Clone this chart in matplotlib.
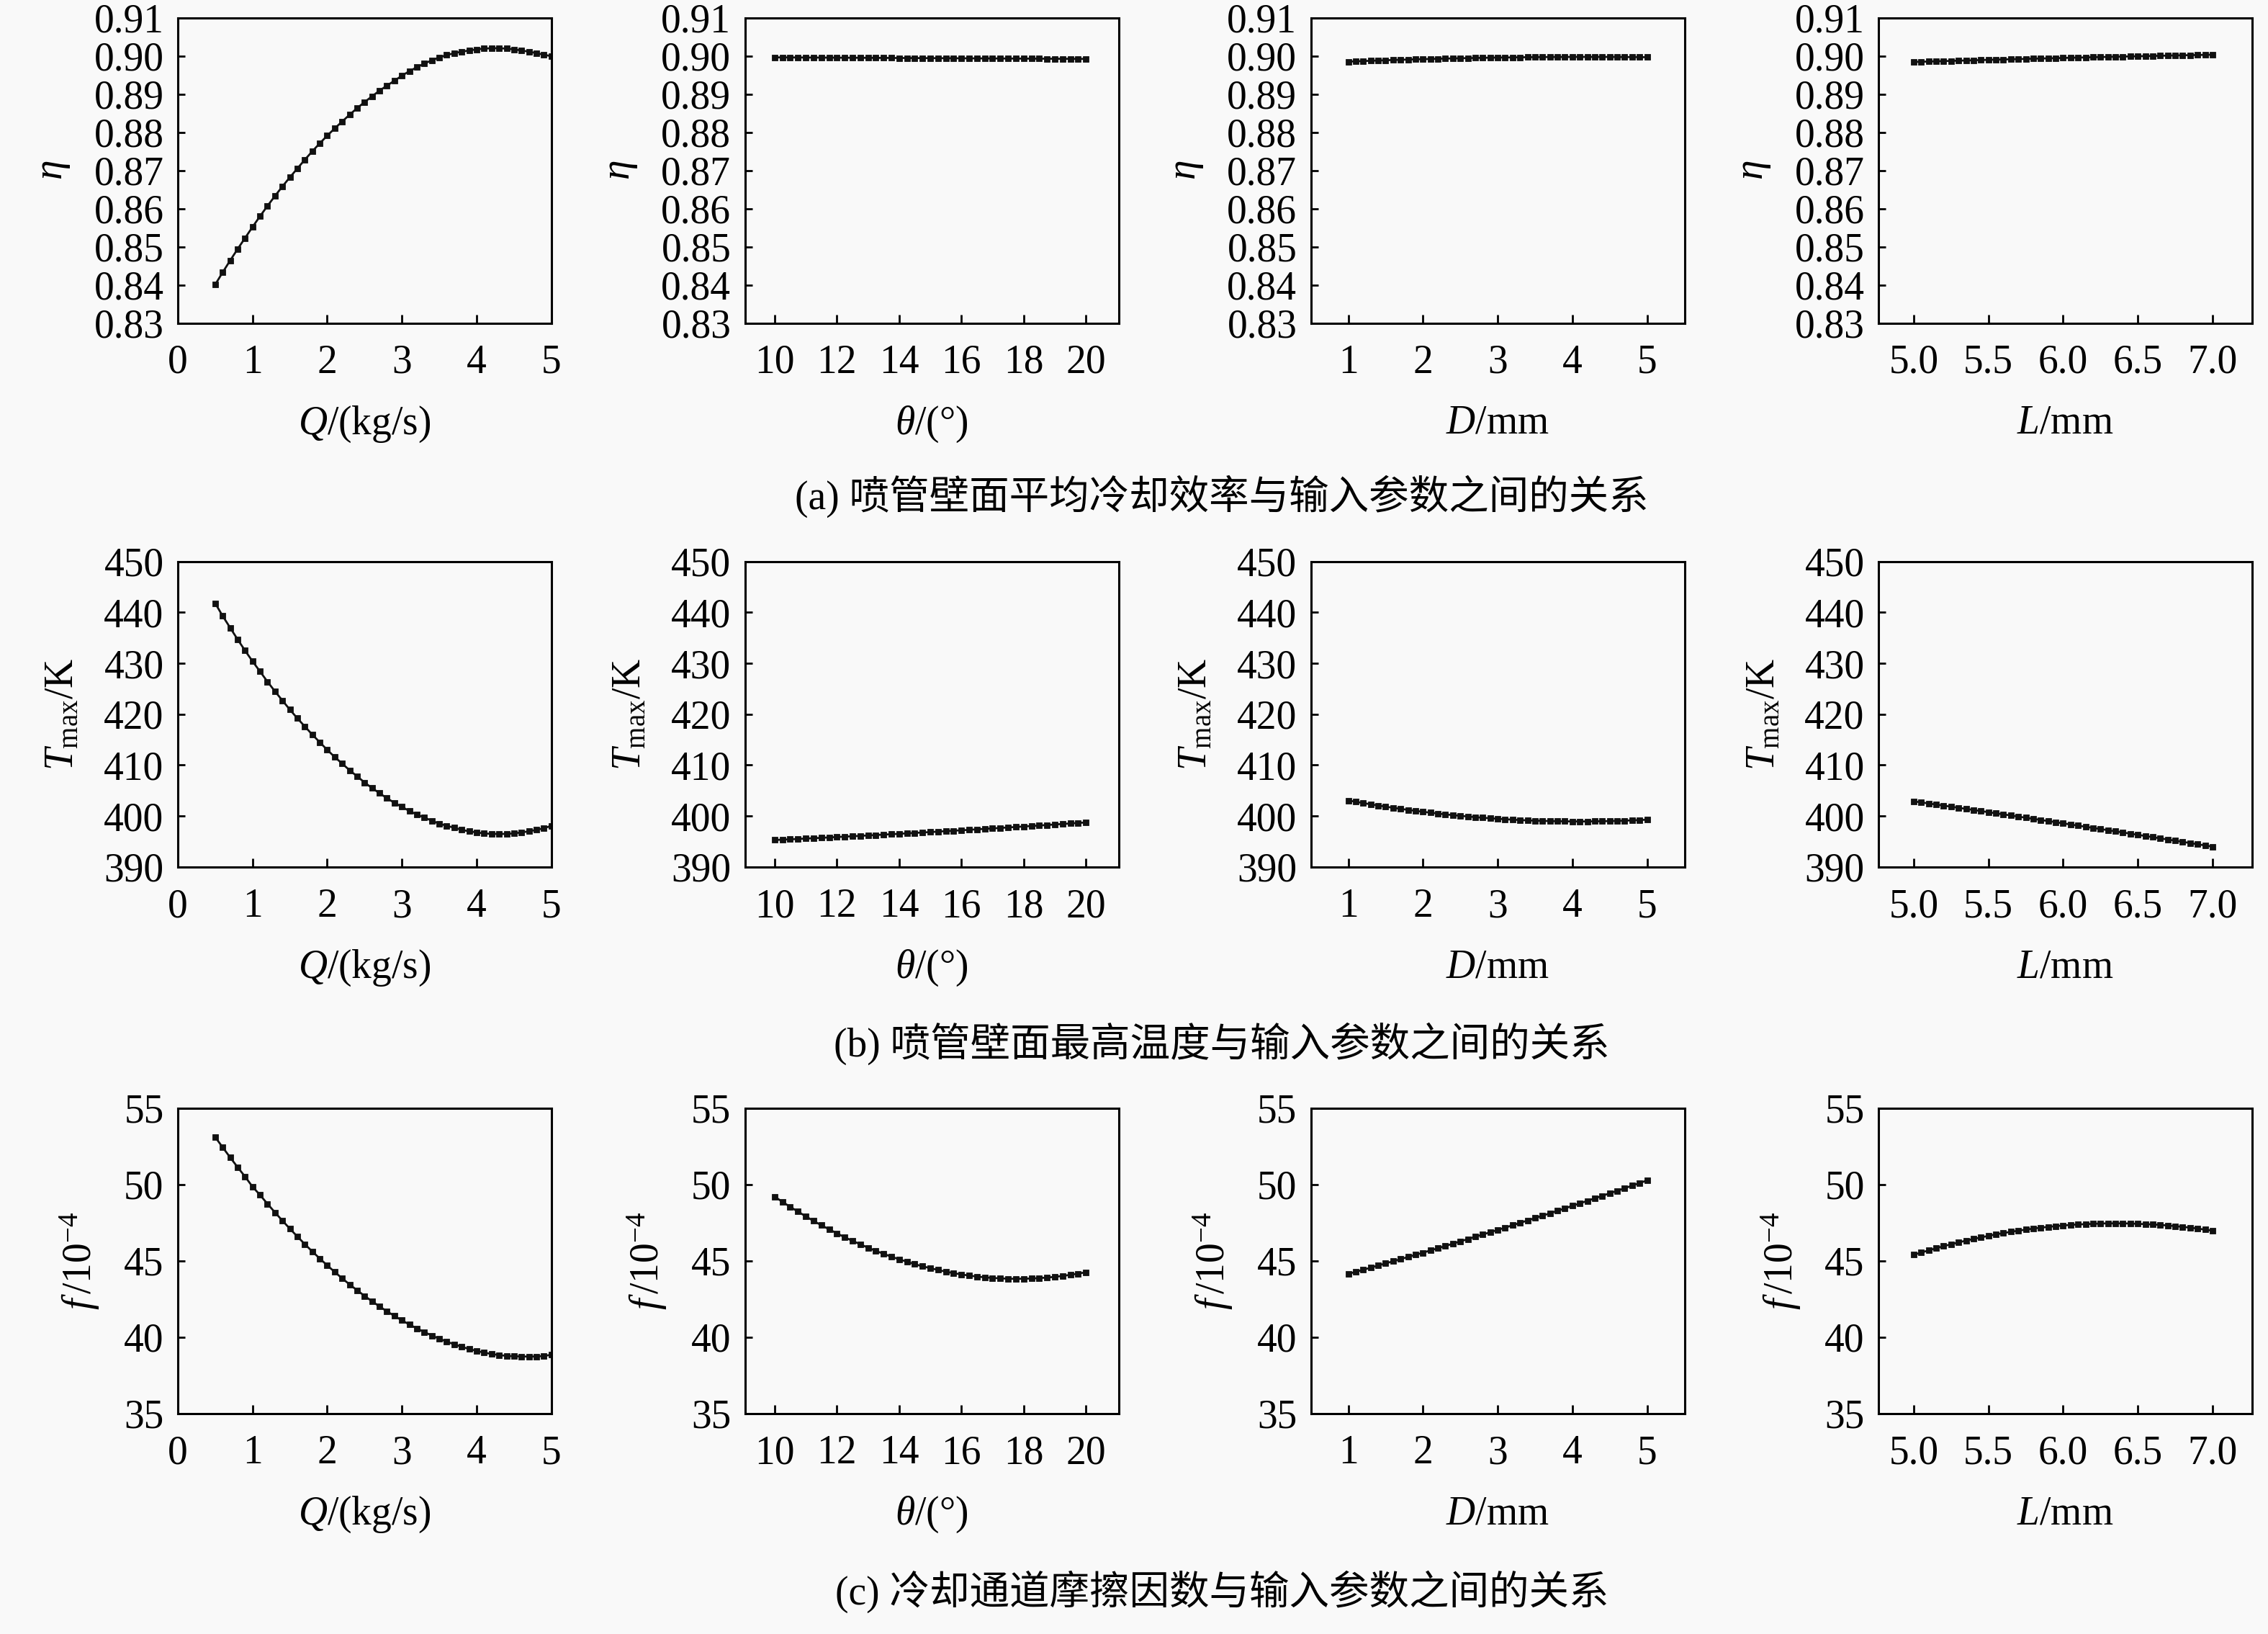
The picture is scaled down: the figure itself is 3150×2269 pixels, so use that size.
import numpy as np
import matplotlib
matplotlib.use("Agg")
import matplotlib.pyplot as plt

plt.rcParams['font.family'] = ['Liberation Serif', 'Noto Sans CJK SC', 'DejaVu Sans']
plt.rcParams['mathtext.fontset'] = 'custom'
plt.rcParams['mathtext.rm'] = 'Liberation Serif'
plt.rcParams['mathtext.it'] = 'Liberation Serif:italic'
plt.rcParams['mathtext.bf'] = 'Liberation Serif:bold'
plt.rcParams['axes.unicode_minus'] = True

# ---------------- data ----------------
Q = np.linspace(0.5, 5.0, 46)
theta = np.linspace(10, 20, 41)
D = np.linspace(1, 5, 41)
L = np.linspace(5.0, 7.0, 41)

Q_eta = [0.8401, 0.8433, 0.8464, 0.8494, 0.8523, 0.8552, 0.8580, 0.8607, 0.8633, 0.8658,
         0.8682, 0.8705, 0.8728, 0.8750, 0.8771, 0.8791, 0.8810, 0.8828, 0.8846, 0.8863,
         0.8879, 0.8894, 0.8909, 0.8922, 0.8935, 0.8948, 0.8960, 0.8970, 0.8980, 0.8988,
         0.8996, 0.9002, 0.9007, 0.9011, 0.9014, 0.9017, 0.9019, 0.9020, 0.9020, 0.9019,
         0.9017, 0.9014, 0.9011, 0.9007, 0.9003, 0.8999]
th_eta = [0.89960, 0.89959, 0.89958, 0.89957, 0.89956, 0.89955, 0.89954, 0.89953, 0.89952, 0.89951,
          0.89950, 0.89949, 0.89948, 0.89947, 0.89946, 0.89945, 0.89944, 0.89943, 0.89942, 0.89941,
          0.89940, 0.89939, 0.89938, 0.89937, 0.89936, 0.89935, 0.89934, 0.89933, 0.89932, 0.89931,
          0.89930, 0.89929, 0.89928, 0.89927, 0.89926, 0.89925, 0.89924, 0.89923, 0.89922, 0.89921,
          0.89920]
D_eta = [0.89849, 0.89857, 0.89864, 0.89871, 0.89878, 0.89885, 0.89891, 0.89897, 0.89903, 0.89909,
         0.89914, 0.89919, 0.89924, 0.89929, 0.89933, 0.89937, 0.89941, 0.89945, 0.89948, 0.89952,
         0.89955, 0.89957, 0.89960, 0.89962, 0.89964, 0.89966, 0.89968, 0.89969, 0.89970, 0.89971,
         0.89972, 0.89972, 0.89972, 0.89972, 0.89972, 0.89971, 0.89970, 0.89969, 0.89968, 0.89966,
         0.89964]
L_eta = [0.89840, 0.89846, 0.89851, 0.89857, 0.89863, 0.89868, 0.89874, 0.89879, 0.89884, 0.89890,
         0.89895, 0.89900, 0.89905, 0.89911, 0.89916, 0.89921, 0.89926, 0.89931, 0.89935, 0.89940,
         0.89945, 0.89950, 0.89954, 0.89959, 0.89964, 0.89968, 0.89973, 0.89977, 0.89981, 0.89986,
         0.89990, 0.89994, 0.89998, 0.90002, 0.90007, 0.90011, 0.90015, 0.90018, 0.90022, 0.90026,
         0.90030]

Q_T = [441.8, 439.3, 437.0, 434.7, 432.5, 430.4, 428.4, 426.4, 424.5, 422.7,
       420.9, 419.2, 417.6, 416.0, 414.5, 413.0, 411.6, 410.3, 409.0, 407.8,
       406.6, 405.5, 404.5, 403.5, 402.6, 401.8, 401.0, 400.3, 399.7, 399.1,
       398.5, 398.1, 397.7, 397.3, 397.0, 396.8, 396.6, 396.5, 396.5, 396.5,
       396.6, 396.8, 397.0, 397.3, 397.6, 398.1]
th_T = [395.30, 395.37, 395.44, 395.51, 395.59, 395.66, 395.73, 395.81, 395.89, 395.96,
        396.04, 396.12, 396.20, 396.28, 396.36, 396.44, 396.52, 396.61, 396.69, 396.78,
        396.86, 396.95, 397.04, 397.13, 397.21, 397.30, 397.40, 397.49, 397.58, 397.67,
        397.77, 397.86, 397.96, 398.05, 398.15, 398.25, 398.35, 398.45, 398.55, 398.65,
        398.75]
D_T = [403.07, 402.81, 402.56, 402.31, 402.08, 401.85, 401.63, 401.42, 401.22, 401.03,
       400.84, 400.67, 400.50, 400.34, 400.19, 400.05, 399.92, 399.79, 399.68, 399.57,
       399.47, 399.38, 399.30, 399.22, 399.16, 399.10, 399.06, 399.02, 398.99, 398.97,
       398.95, 398.95, 398.95, 398.97, 398.99, 399.02, 399.06, 399.10, 399.16, 399.22,
       399.30]
L_T = [402.90, 402.69, 402.48, 402.27, 402.06, 401.84, 401.63, 401.41, 401.20, 400.98,
       400.77, 400.55, 400.34, 400.12, 399.90, 399.68, 399.46, 399.24, 399.02, 398.80,
       398.58, 398.35, 398.13, 397.90, 397.68, 397.45, 397.23, 397.00, 396.78, 396.55,
       396.32, 396.09, 395.86, 395.63, 395.40, 395.17, 394.94, 394.70, 394.47, 394.23,
       394.00]

Q_f = [53.10, 52.43, 51.77, 51.13, 50.51, 49.85, 49.31, 48.73, 48.17, 47.63,
       47.10, 46.59, 46.09, 45.61, 45.15, 44.70, 44.27, 43.85, 43.45, 43.07,
       42.70, 42.35, 42.01, 41.69, 41.39, 41.10, 40.83, 40.57, 40.33, 40.11,
       39.90, 39.71, 39.53, 39.37, 39.23, 39.10, 38.99, 38.90, 38.83, 38.78,
       38.75, 38.74, 38.73, 38.74, 38.77, 38.85]
th_f = [49.20, 48.86, 48.53, 48.22, 47.91, 47.61, 47.33, 47.06, 46.80, 46.54,
        46.31, 46.08, 45.86, 45.65, 45.46, 45.27, 45.10, 44.94, 44.78, 44.64,
        44.52, 44.40, 44.29, 44.19, 44.11, 44.03, 43.97, 43.92, 43.88, 43.85,
        43.83, 43.82, 43.83, 43.84, 43.87, 43.90, 43.95, 44.01, 44.08, 44.16,
        44.25]
D_f = [44.14, 44.28, 44.41, 44.55, 44.69, 44.83, 44.97, 45.11, 45.25, 45.39,
       45.53, 45.68, 45.82, 45.97, 46.12, 46.27, 46.42, 46.57, 46.72, 46.87,
       47.02, 47.17, 47.33, 47.48, 47.64, 47.80, 47.95, 48.11, 48.27, 48.43,
       48.60, 48.76, 48.92, 49.09, 49.25, 49.42, 49.58, 49.75, 49.92, 50.09,
       50.26]
L_f = [45.39, 45.54, 45.68, 45.82, 45.96, 46.08, 46.20, 46.32, 46.43, 46.53,
       46.63, 46.73, 46.81, 46.90, 46.97, 47.04, 47.11, 47.17, 47.22, 47.27,
       47.31, 47.35, 47.38, 47.40, 47.42, 47.44, 47.45, 47.45, 47.45, 47.44,
       47.42, 47.40, 47.38, 47.35, 47.31, 47.27, 47.22, 47.17, 47.11, 47.04,
       46.97]

x_labels = [r'$Q$/(kg/s)', r'$\theta$/(°)', r'$D$/mm', r'$L$/mm']
y_labels = [r'$\eta$', r'$T_{\rm max}$/K', r'$f\,$/10$^{-4}$']
captions = ['(a) 喷管壁面平均冷却效率与输入参数之间的关系',
            '(b) 喷管壁面最高温度与输入参数之间的关系',
            '(c) 冷却通道摩擦因数与输入参数之间的关系']

x_data = [Q, theta, D, L]
x_ticks = [[0, 1, 2, 3, 4, 5], [10, 12, 14, 16, 18, 20], [1, 2, 3, 4, 5],
           [5.0, 5.5, 6.0, 6.5, 7.0]]
x_ticklabels = [['0', '1', '2', '3', '4', '5'], ['10', '12', '14', '16', '18', '20'],
                ['1', '2', '3', '4', '5'], ['5.0', '5.5', '6.0', '6.5', '7.0']]
x_lims = [(0, 5), (9.05, 21.05), (0.5, 5.5), (4.765, 7.265)]

y_data = [[Q_eta, th_eta, D_eta, L_eta],
          [Q_T, th_T, D_T, L_T],
          [Q_f, th_f, D_f, L_f]]
y_ticks = [[0.83, 0.84, 0.85, 0.86, 0.87, 0.88, 0.89, 0.90, 0.91],
           [390, 400, 410, 420, 430, 440, 450],
           [35, 40, 45, 50, 55]]
y_ticklabels = [['0.83', '0.84', '0.85', '0.86', '0.87', '0.88', '0.89', '0.90', '0.91'],
                ['390', '400', '410', '420', '430', '440', '450'],
                ['35', '40', '45', '50', '55']]
y_lims = [(0.83, 0.91), (390, 450), (35, 55)]

# ---------------- layout ----------------
BG = '#f9f9f9'
fig = plt.figure(figsize=(15.75, 11.345), dpi=200, facecolor=BG)
FS = 20

col_left = [0.0784, 0.3285, 0.5780, 0.8283]
row_bottom = [0.8022, 0.4694, 0.1349]
W, H = 0.1647, 0.1870
cap_y = [0.6963, 0.3614, 0.026]

for r in range(3):
    for c in range(4):
        ax = fig.add_axes([col_left[c], row_bottom[r], W, H], facecolor=BG)
        ax.plot(x_data[c], y_data[r][c], color='#111111', lw=1.0, marker='s',
                ms=3.0, mec='#111111', mfc='#111111', mew=0.3)
        ax.set_xlim(*x_lims[c])
        ax.set_ylim(*y_lims[r])
        ax.set_xticks(x_ticks[c])
        ax.set_xticklabels(x_ticklabels[c])
        ax.set_yticks(y_ticks[r])
        ax.set_yticklabels(y_ticklabels[r])
        ax.tick_params(axis='both', direction='in', top=False, right=False,
                       labelsize=FS, width=1.0, color='black')
        ax.tick_params(axis='x', length=4.5, pad=10.5)
        ax.tick_params(axis='y', length=3.5, pad=7)
        for sp in ax.spines.values():
            sp.set_linewidth(1.1)
            sp.set_color('black')
        ax.set_xlabel(x_labels[c], fontsize=FS, labelpad=11.5)
        ax.set_ylabel(y_labels[r], fontsize=FS, labelpad=11)
    fig.text(0.5387, cap_y[r], captions[r], ha='center', va='center', fontsize=FS)

fig.savefig('out.png', dpi=200, facecolor=BG)
